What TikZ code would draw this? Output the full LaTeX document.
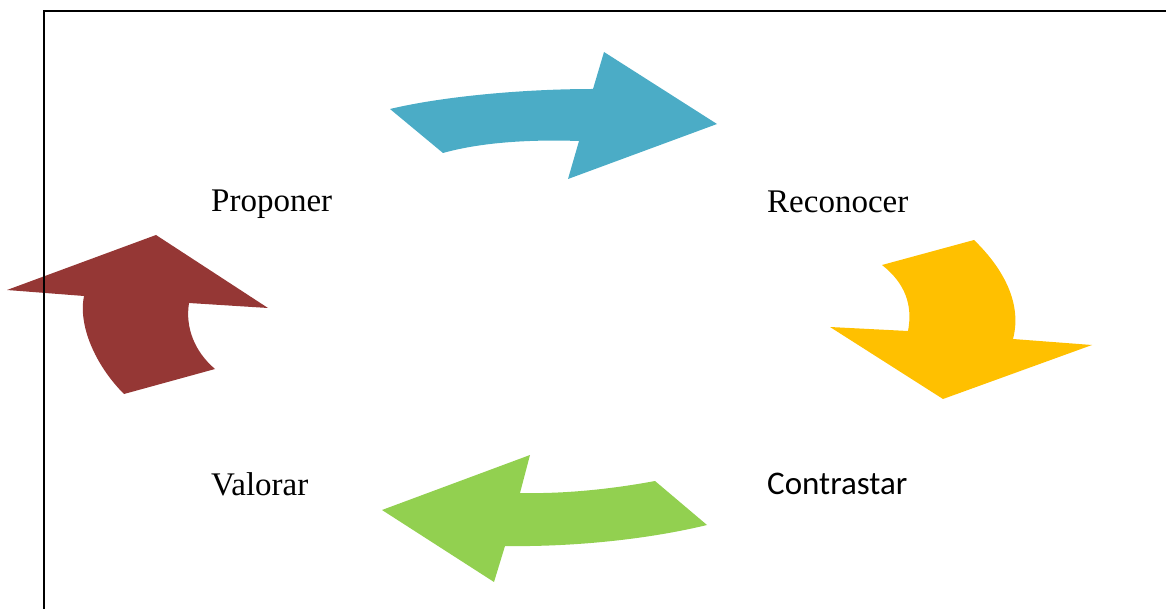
\documentclass[tikz,border=0pt]{standalone}
\usepackage{fontspec}
\setmainfont{Liberation Serif}
\newfontfamily\sansbody{Carlito}
\usepackage{xcolor}
\usepackage{tikz}

\definecolor{arrowblue}{HTML}{4BACC6}
\definecolor{arrowyellow}{HTML}{FFC000}
\definecolor{arrowgreen}{HTML}{92D050}
\definecolor{arrowred}{HTML}{953735}

\begin{document}
\begin{tikzpicture}[
    x=1pt, y=-1pt,
    steptext/.style={anchor=base west, inner sep=0pt, font=\fontsize{33}{40}\selectfont},
    cyclearrow/.style={draw=none}
]
\useasboundingbox (0,0) rectangle (1166,609);

% Cycle arrows
\fill[cyclearrow, arrowblue] (390,109) .. controls (440,97) and (520,89) .. (593,89)
    -- (604,52) -- (717,124) -- (568,179) -- (579,141)
    .. controls (520,139) and (475,144) .. (443,153) -- cycle;

\fill[cyclearrow, arrowyellow] (974,240) .. controls (1005,270) and (1022,305) .. (1013,339)
    -- (1092,345) -- (943,399) -- (830,327) -- (908,331)
    .. controls (913,305) and (905,283) .. (882,265) -- cycle;

\fill[cyclearrow, arrowgreen] (707,525) .. controls (645,540) and (570,547) .. (505,546)
    -- (494,582) -- (382,510) -- (530,455) -- (520,493)
    .. controls (565,494) and (612,489) .. (655,481) -- cycle;

\fill[cyclearrow, arrowred] (124,394) .. controls (95,365) and (78,325) .. (84,296)
    -- (7,290) -- (156,235) -- (268,308) -- (189,303)
    .. controls (185,328) and (195,352) .. (215,369) -- cycle;

% Step labels
\node[steptext] (proponer) at (211,211.5) {Proponer};
\node[steptext] (reconocer) at (767,212.5) {Reconocer};
\node[steptext, font=\sansbody\fontsize{33}{40}\selectfont] (contrastar) at (767,494) {Contrastar};
\node[steptext] (valorar) at (211,495.5) {Valorar};

% Frame
\draw[line width=2pt] (43.5,609) -- (43.5,11.5) -- (1166,11.5);

\end{tikzpicture}
\end{document}
